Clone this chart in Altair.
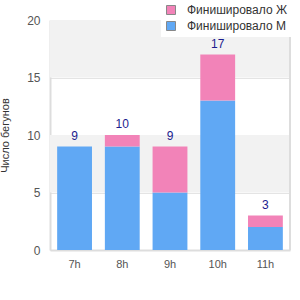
import altair as alt
import pandas as pd

hours = ["7h", "8h", "9h", "10h", "11h"]
men = [9, 9, 5, 13, 2]
women = [0, 1, 4, 4, 1]
totals = [9, 10, 9, 17, 3]
series_names = ["Финишировало Ж", "Финишировало М"]
colors = ["#f283b8", "#60a8f4"]
band_lo = [5, 15]
band_hi = [10, 20]

rows = []
for h, m, w in zip(hours, men, women):
    rows.append({"hour": h, "series": series_names[1], "value": m, "order": 0})
    rows.append({"hour": h, "series": series_names[0], "value": w, "order": 1})
df = pd.DataFrame(rows)
tot = pd.DataFrame({"hour": hours, "total": totals})
bands = pd.DataFrame({"lo": band_lo, "hi": band_hi})

FONT = "Liberation Sans"

yscale = alt.Scale(domain=[0, 20])

band_layer = alt.Chart(bands).mark_rect(color="#f2f2f2").encode(
    y=alt.Y("lo:Q", scale=yscale),
    y2="hi:Q",
    x=alt.value(0),
    x2=alt.value(240),
)

bars = alt.Chart(df).mark_bar().encode(
    x=alt.X("hour:N", sort=hours, scale=alt.Scale(paddingInner=0.27, paddingOuter=0.15),
            axis=alt.Axis(title=None, labelAngle=0, labelFont=FONT, labelFontSize=11,
                          labelColor="#555", labelPadding=8, ticks=False,
                          domainColor="#dddddd", domainWidth=2)),
    y=alt.Y("value:Q", stack="zero", scale=yscale,
            axis=alt.Axis(title="Число бегунов", values=[0, 5, 10, 15, 20],
                          labelFont=FONT, labelFontSize=12, labelColor="#555",
                          labelPadding=10, ticks=False, domainColor="#dddddd",
                          domainWidth=2, gridColor="#e4e4e4", titleFont=FONT,
                          titleFontSize=11, titleFontWeight="normal", titleColor="#333",
                          titleX=-45, titleY=115, titleAngle=-90,
                          titleAlign="center", titleBaseline="middle")),
    color=alt.Color("series:N", scale=alt.Scale(domain=series_names, range=colors),
                    legend=alt.Legend(title=None, orient="none", legendX=111, legendY=-20,
                                      fillColor="white", padding=4,
                                      labelFont=FONT, labelFontSize=12, labelColor="#333",
                                      symbolType="square", symbolSize=81,
                                      symbolStrokeColor="#888", symbolStrokeWidth=1,
                                      rowPadding=2, labelOffset=10)),
    order=alt.Order("order:Q"),
)

labels = alt.Chart(tot).mark_text(baseline="bottom", dy=-4, font=FONT, fontSize=12,
                                  color="#1c1c8f").encode(
    x=alt.X("hour:N", sort=hours),
    y=alt.Y("total:Q", scale=yscale),
    text="total:Q",
)

right_border = alt.Chart(tot).mark_rule(color="#dddddd", strokeWidth=2).encode(
    x=alt.value(240), y=alt.value(0), y2=alt.value(230)
)

chart = alt.layer(band_layer, bars, labels, right_border).properties(
    width=240, height=230,
    autosize=alt.AutoSizeParams(type="none"),
    padding={"left": 50, "top": 20, "right": 10, "bottom": 50},
).configure_view(stroke=None).configure_axisY(domain=True).configure_axisX(grid=False)

chart.save("out.html", embed_options={"renderer": "svg", "actions": False})
